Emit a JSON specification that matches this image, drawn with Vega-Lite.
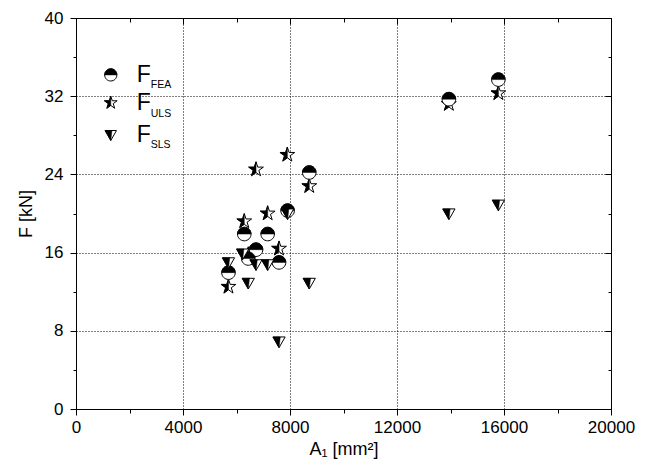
{
  "$schema": "https://vega.github.io/schema/vega-lite/v6.json",
  "width": 535,
  "height": 391,
  "autosize": "none",
  "padding": {"left": 76, "top": 18, "right": 40, "bottom": 61},
  "background": "white",
  "config": {
    "view": {"stroke": "black", "strokeWidth": 1},
    "font": "Liberation Sans",
    "axis": {
      "domainColor": "black", "tickColor": "black", "labelColor": "black", "titleColor": "black",
      "labelFont": "Liberation Sans", "titleFont": "Liberation Sans", "labelFontSize": 17, "titleFontSize": 18,
      "titleFontWeight": "normal", "gridColor": "black", "gridDash": [1, 2], "gridWidth": 1, "tickWidth": 1, "domainWidth": 1
    }
  },
  "datasets": {
    "pts": [
      {"A": 5700, "F": 13.95, "s": "FEA"}, {"A": 6290, "F": 17.9, "s": "FEA"}, {"A": 6440, "F": 15.4, "s": "FEA"},
      {"A": 6730, "F": 16.3, "s": "FEA"}, {"A": 7165, "F": 17.9, "s": "FEA"}, {"A": 7590, "F": 15.0, "s": "FEA"},
      {"A": 7910, "F": 20.3, "s": "FEA"}, {"A": 8720, "F": 24.2, "s": "FEA"}, {"A": 13940, "F": 31.7, "s": "FEA"},
      {"A": 15790, "F": 33.7, "s": "FEA"},
      {"A": 5700, "F": 12.5, "s": "ULS"}, {"A": 6290, "F": 19.2, "s": "ULS"}, {"A": 6440, "F": 15.8, "s": "ULS"},
      {"A": 6730, "F": 24.5, "s": "ULS"}, {"A": 7165, "F": 20.0, "s": "ULS"}, {"A": 7590, "F": 16.4, "s": "ULS"},
      {"A": 7900, "F": 26.0, "s": "ULS"}, {"A": 8720, "F": 22.8, "s": "ULS"}, {"A": 13940, "F": 31.2, "s": "ULS"},
      {"A": 15790, "F": 32.3, "s": "ULS"},
      {"A": 5700, "F": 15.0, "s": "SLS"}, {"A": 6230, "F": 15.9, "s": "SLS"}, {"A": 6440, "F": 12.9, "s": "SLS"},
      {"A": 6730, "F": 14.8, "s": "SLS"}, {"A": 7165, "F": 14.8, "s": "SLS"}, {"A": 7590, "F": 6.9, "s": "SLS"},
      {"A": 7910, "F": 20.0, "s": "SLS"}, {"A": 8720, "F": 12.9, "s": "SLS"}, {"A": 13940, "F": 20.0, "s": "SLS"},
      {"A": 15790, "F": 20.9, "s": "SLS"}
    ]
  },
  "resolve": {"axis": {"x": "independent", "y": "independent"}},
  "layer": [
    {
      "data": {"name": "pts"},
      "transform": [{"filter": "datum.s === 'ULS'"}],
      "mark": {"type": "point", "shape": "M0,-1L0.225,-0.309L0.951,-0.309L0.363,0.118L0.588,0.809L0,0.382L-0.588,0.809L-0.363,0.118L-0.951,-0.309L-0.225,-0.309Z", "size": 240, "filled": true, "fill": "white", "stroke": "black", "strokeWidth": 1, "opacity": 1},
      "encoding": {
        "x": {"field": "A", "type": "quantitative", "scale": {"domain": [0, 20000], "nice": false},
          "axis": {"orient": "bottom", "title": "A₁ [mm²]", "values": [0, 2000, 4000, 6000, 8000, 10000, 12000, 14000, 16000, 18000, 20000],
            "format": "d", "labelExpr": "datum.value % 4000 === 0 ? datum.label : ''",
            "tickSize": {"condition": {"test": "datum.value % 4000 === 0", "value": 6}, "value": 4},
            "grid": true, "gridOpacity": {"condition": {"test": "datum.value % 4000 === 0 && datum.value > 0 && datum.value < 20000", "value": 1}, "value": 0},
            "labelPadding": 4, "titlePadding": 5, "labelFlush": false, "labelOverlap": false}},
        "y": {"field": "F", "type": "quantitative", "scale": {"domain": [0, 40], "nice": false},
          "axis": {"orient": "left", "title": "F [kN]", "values": [0, 4, 8, 12, 16, 20, 24, 28, 32, 36, 40],
            "labelExpr": "datum.value % 8 === 0 ? datum.label : ''",
            "tickSize": {"condition": {"test": "datum.value % 8 === 0", "value": 6}, "value": 3},
            "grid": true, "gridOpacity": {"condition": {"test": "datum.value % 8 === 0 && datum.value > 0 && datum.value < 40", "value": 1}, "value": 0},
            "labelPadding": 7, "titlePadding": 9, "labelFlush": false, "labelOverlap": false}}
      }
    },
    {
      "data": {"name": "pts"},
      "transform": [{"filter": "datum.s === 'ULS'"}],
      "mark": {"type": "point", "shape": "M0,-1L0,0.382L-0.588,0.809L-0.363,0.118L-0.951,-0.309L-0.225,-0.309Z", "size": 240, "filled": true, "fill": "black", "stroke": "black", "strokeWidth": 0.5, "opacity": 1},
      "encoding": {
        "x": {"field": "A", "type": "quantitative", "scale": {"domain": [0, 20000], "nice": false},
          "axis": {"orient": "top", "title": null, "labels": false, "values": [0, 2000, 4000, 6000, 8000, 10000, 12000, 14000, 16000, 18000, 20000],
            "tickSize": {"condition": {"test": "datum.value % 4000 === 0", "value": -6}, "value": -4}, "grid": false}},
        "y": {"field": "F", "type": "quantitative", "scale": {"domain": [0, 40], "nice": false},
          "axis": {"orient": "right", "title": null, "labels": false, "values": [0, 4, 8, 12, 16, 20, 24, 28, 32, 36, 40],
            "tickSize": {"condition": {"test": "datum.value % 8 === 0", "value": -6}, "value": -3}, "grid": false}}
      }
    },
    {
      "data": {"name": "pts"},
      "transform": [{"filter": "datum.s === 'FEA'"}],
      "mark": {"type": "point", "shape": "M-1,0A1,1,0,1,1,1,0A1,1,0,1,1,-1,0Z", "size": 185, "filled": true, "fill": "white", "stroke": "black", "strokeWidth": 1, "opacity": 1},
      "encoding": {
        "x": {"field": "A", "type": "quantitative", "axis": null},
        "y": {"field": "F", "type": "quantitative", "axis": null}
      }
    },
    {
      "data": {"name": "pts"},
      "transform": [{"filter": "datum.s === 'FEA'"}],
      "mark": {"type": "point", "shape": "M-1,0A1,1,0,0,1,1,0Z", "size": 185, "filled": true, "fill": "black", "stroke": "black", "strokeWidth": 0.5, "opacity": 1},
      "encoding": {
        "x": {"field": "A", "type": "quantitative", "axis": null},
        "y": {"field": "F", "type": "quantitative", "axis": null}
      }
    },
    {
      "data": {"name": "pts"},
      "transform": [{"filter": "datum.s === 'SLS'"}],
      "mark": {"type": "point", "shape": "M-1,-0.75L1,-0.75L0,1Z", "size": 150, "filled": true, "fill": "white", "stroke": "black", "strokeWidth": 1, "opacity": 1},
      "encoding": {
        "x": {"field": "A", "type": "quantitative", "axis": null},
        "y": {"field": "F", "type": "quantitative", "axis": null}
      }
    },
    {
      "data": {"name": "pts"},
      "transform": [{"filter": "datum.s === 'SLS'"}],
      "mark": {"type": "point", "shape": "M-1,-0.75L0.2,-0.75L0,1Z", "size": 150, "filled": true, "fill": "black", "stroke": "black", "strokeWidth": 0.5, "opacity": 1},
      "encoding": {
        "x": {"field": "A", "type": "quantitative", "axis": null},
        "y": {"field": "F", "type": "quantitative", "axis": null}
      }
    },
    {
      "data": {"values": [{"sub": "FEA"}]},
      "encoding": {"x": {"datum": 1300, "type": "quantitative", "axis": null}, "y": {"datum": 34.18, "type": "quantitative", "axis": null}},
      "layer": [
        {"mark": {"type": "point", "shape": "M-1,0A1,1,0,1,1,1,0A1,1,0,1,1,-1,0Z", "size": 150, "filled": true, "fill": "white", "stroke": "black", "strokeWidth": 1, "opacity": 1}},
        {"mark": {"type": "point", "shape": "M-1,0A1,1,0,0,1,1,0Z", "size": 150, "filled": true, "fill": "black", "stroke": "black", "strokeWidth": 0.5, "opacity": 1}},
        {"mark": {"type": "text", "text": "F", "align": "left", "baseline": "alphabetic", "dx": 26, "dy": 7, "fontSize": 23, "font": "Liberation Sans", "color": "black"}},
        {"mark": {"type": "text", "align": "left", "baseline": "alphabetic", "dx": 40, "dy": 13, "fontSize": 10.5, "font": "Liberation Sans", "color": "black"}, "encoding": {"text": {"field": "sub"}}}
      ]
    },
    {
      "data": {"values": [{"sub": "ULS"}]},
      "encoding": {"x": {"datum": 1300, "type": "quantitative", "axis": null}, "y": {"datum": 31.32, "type": "quantitative", "axis": null}},
      "layer": [
        {"mark": {"type": "point", "shape": "M0,-1L0.225,-0.309L0.951,-0.309L0.363,0.118L0.588,0.809L0,0.382L-0.588,0.809L-0.363,0.118L-0.951,-0.309L-0.225,-0.309Z", "size": 180, "filled": true, "fill": "white", "stroke": "black", "strokeWidth": 1, "opacity": 1}},
        {"mark": {"type": "point", "shape": "M0,-1L0,0.382L-0.588,0.809L-0.363,0.118L-0.951,-0.309L-0.225,-0.309Z", "size": 180, "filled": true, "fill": "black", "stroke": "black", "strokeWidth": 0.5, "opacity": 1}},
        {"mark": {"type": "text", "text": "F", "align": "left", "baseline": "alphabetic", "dx": 26, "dy": 7, "fontSize": 23, "font": "Liberation Sans", "color": "black"}},
        {"mark": {"type": "text", "align": "left", "baseline": "alphabetic", "dx": 40, "dy": 14, "fontSize": 10.5, "font": "Liberation Sans", "color": "black"}, "encoding": {"text": {"field": "sub"}}}
      ]
    },
    {
      "data": {"values": [{"sub": "SLS"}]},
      "encoding": {"x": {"datum": 1300, "type": "quantitative", "axis": null}, "y": {"datum": 28.05, "type": "quantitative", "axis": null}},
      "layer": [
        {"mark": {"type": "point", "shape": "M-1,-0.75L1,-0.75L0,1Z", "size": 130, "filled": true, "fill": "white", "stroke": "black", "strokeWidth": 1, "opacity": 1}},
        {"mark": {"type": "point", "shape": "M-1,-0.75L0.2,-0.75L0,1Z", "size": 130, "filled": true, "fill": "black", "stroke": "black", "strokeWidth": 0.5, "opacity": 1}},
        {"mark": {"type": "text", "text": "F", "align": "left", "baseline": "alphabetic", "dx": 26, "dy": 7, "fontSize": 23, "font": "Liberation Sans", "color": "black"}},
        {"mark": {"type": "text", "align": "left", "baseline": "alphabetic", "dx": 40, "dy": 13, "fontSize": 10.5, "font": "Liberation Sans", "color": "black"}, "encoding": {"text": {"field": "sub"}}}
      ]
    }
  ]
}
